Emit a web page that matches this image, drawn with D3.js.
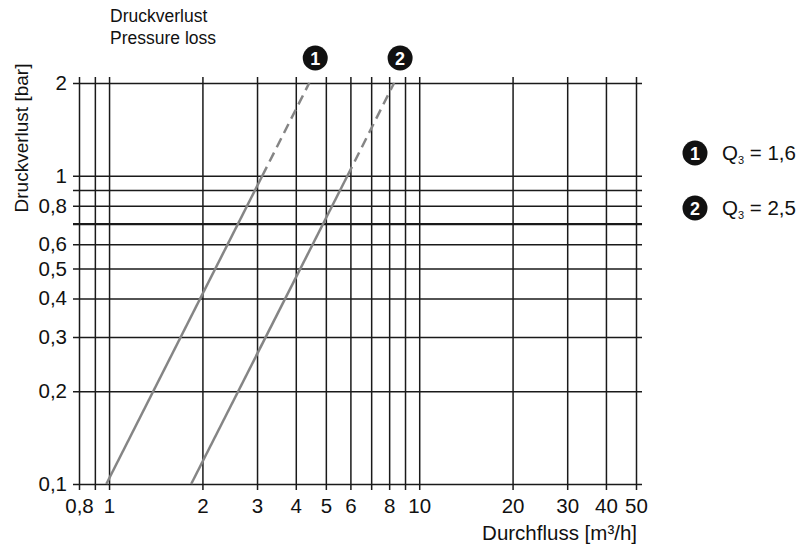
<!DOCTYPE html>
<html lang="de">
<head>
<meta charset="UTF-8">
<title>Druckverlust</title>
<script src="https://d3js.org/d3.v7.min.js"></script>
<style>
  body { margin: 0; background: #fff; }
  svg { font-family: "Liberation Sans", Arial, sans-serif; }
  .grid line { stroke: #1a1a1a; stroke-width: 1.5; }
  .grid text { fill: #111; font-size: 20.5px; }
  .grid path { display: none; }
</style>
</head>
<body>
<svg width="803" height="549"></svg>
<script>
// grid / tick values
const xGrid = [0.8, 0.9, 1, 2, 3, 4, 5, 6, 7, 8, 9, 10, 20, 30, 40, 50];
const xLabeled = [0.8, 1, 2, 3, 4, 5, 6, 8, 10, 20, 30, 40, 50];
const yGrid = [0.1, 0.2, 0.3, 0.4, 0.5, 0.6, 0.7, 0.8, 0.9, 1, 2];
const yLabeled = [0.1, 0.2, 0.3, 0.4, 0.5, 0.6, 0.8, 1, 2];

// curves: flow [m3/h] at pressure loss [bar]
const pressure = [0.1, 1, 2];
const flowQ16 = [0.98, 3.12, 4.42];
const flowQ25 = [1.84, 5.87, 8.30];

const series = [
  { id: "1", label: "1,6", flow: flowQ16 },
  { id: "2", label: "2,5", flow: flowQ25 }
];

const svg = d3.select("svg");

const x = d3.scaleLog().domain([0.8, 50]).range([79, 636]);
const y = d3.scaleLog().domain([0.1, 2]).range([484, 83]);

const fmt = v => String(v).replace(".", ",");

// vertical grid + x labels
svg.append("g")
  .attr("class", "grid")
  .attr("transform", "translate(0,490)")
  .call(d3.axisBottom(x)
    .tickValues(xGrid)
    .tickSize(-(490 - 77))
    .tickPadding(8)
    .tickFormat(d => xLabeled.includes(d) ? fmt(d) : ""));

// horizontal grid + y labels
const gy = svg.append("g")
  .attr("class", "grid")
  .attr("transform", "translate(73,0)")
  .call(d3.axisLeft(y)
    .tickValues(yGrid)
    .tickSize(-(642 - 73))
    .tickPadding(6)
    .tickFormat(d => yLabeled.includes(d) ? fmt(d) : ""));

gy.selectAll(".tick line")
  .filter(d => d === 0.7)
  .style("stroke-width", 2.2);

// curves
const line = d3.line()
  .x(d => x(d[0]))
  .y(d => y(d[1]));

series.forEach(s => {
  const pts = s.flow.map((f, i) => [f, pressure[i]]);
  svg.append("path")
    .datum(pts.slice(0, 2))
    .attr("d", line)
    .attr("fill", "none")
    .attr("stroke", "#858585")
    .attr("stroke-width", 2.5);
  svg.append("path")
    .datum(pts.slice(1))
    .attr("d", line)
    .attr("fill", "none")
    .attr("stroke", "#858585")
    .attr("stroke-width", 2.5)
    .attr("stroke-dasharray", "10,6");
});

// numbered badges
function badge(cx, cy, txt) {
  svg.append("circle")
    .attr("cx", cx).attr("cy", cy).attr("r", 12.5)
    .attr("fill", "#111");
  svg.append("text")
    .attr("x", cx).attr("y", cy + 6.5)
    .attr("text-anchor", "middle")
    .attr("fill", "#fff")
    .attr("font-weight", "bold")
    .attr("font-size", 18)
    .text(txt);
}

series.forEach(s => {
  badge(x(s.flow[2]) + 6, 58, s.id);
});

// legend
series.forEach((s, i) => {
  const ly = 153 + i * 55;
  badge(695, ly, s.id);
  const t = svg.append("text")
    .attr("x", 722).attr("y", ly + 7)
    .attr("font-size", 20.5)
    .attr("fill", "#111");
  t.append("tspan").text("Q");
  t.append("tspan").attr("font-size", 11).attr("dy", 4).text("3");
  t.append("tspan").attr("dy", -4).text(" = " + s.label);
});

// titles
svg.append("text")
  .attr("x", 110).attr("y", 22)
  .attr("font-size", 17.5).attr("fill", "#111")
  .text("Druckverlust");
svg.append("text")
  .attr("x", 110).attr("y", 44)
  .attr("font-size", 17.5).attr("fill", "#111")
  .text("Pressure loss");

svg.append("text")
  .attr("transform", "translate(28,138) rotate(-90)")
  .attr("text-anchor", "middle")
  .attr("font-size", 19).attr("fill", "#111")
  .text("Druckverlust [bar]");

svg.append("text")
  .attr("x", 637).attr("y", 540)
  .attr("text-anchor", "end")
  .attr("font-size", 20.5).attr("fill", "#111")
  .text("Durchfluss [m³/h]");
</script>
</body>
</html>
